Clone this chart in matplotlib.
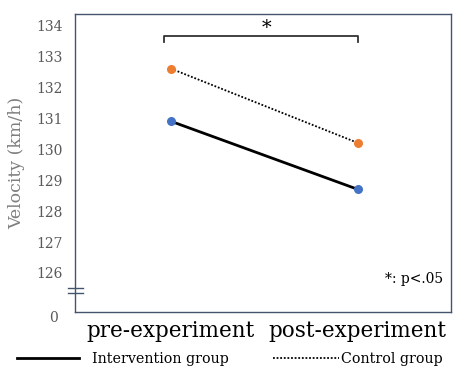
import matplotlib.pyplot as plt

phases = ['pre-experiment', 'post-experiment']
intervention = [130.9, 128.7]
control = [132.6, 130.2]
ytick_vals = [126, 127, 128, 129, 130, 131, 132, 133, 134]
ytick_labels = [str(v) for v in ytick_vals]

plt.rcParams['font.family'] = 'DejaVu Serif'

fig = plt.figure(figsize=(4.54, 3.71), dpi=100)
ax = fig.add_axes([0.165, 0.159, 0.828, 0.803])

x = [0, 1]
l1, = ax.plot(x, intervention, color='black', lw=2, label='Intervention group', zorder=2)
l2, = ax.plot(x, control, color='black', lw=1.3, ls=(0, (1, 1)), label='Control group', zorder=2)
ax.scatter(x, intervention, s=30, color='#4472C4', zorder=3)
ax.scatter(x, control, s=30, color='#ED7D31', zorder=3)

ax.set_xlim(-0.513, 1.497)
ax.set_ylim(124.74, 134.36)
ax.set_yticks(ytick_vals)
ax.set_yticklabels(ytick_labels, color='#595959', fontsize=10)
ax.set_xticks(x)
ax.set_xticklabels(phases, fontsize=15.5)
ax.tick_params(axis='y', length=0, pad=9)
ax.tick_params(axis='x', length=0, pad=6)
for s in ax.spines.values():
    s.set_color('#44546A')
    s.set_linewidth(1)

ax.set_ylabel('Velocity (km/h)', color='#7F7F7F', fontsize=12.5, labelpad=8)

# axis break mark and the "0" baseline label
ax.text(-0.045, -0.02, '0', transform=ax.transAxes, ha='right', va='center', fontsize=10, color='#595959')
for yy in [0.081, 0.064]:
    ax.plot([-0.018, 0.022], [yy, yy], transform=ax.transAxes, color='#44546A', lw=1, clip_on=False)

# significance bracket
ax.plot([-0.037, -0.037, 1.0, 1.0], [133.45, 133.65, 133.65, 133.45], color='#333333', lw=1.3)
ax.text(0.51, 133.92, '*', ha='center', va='center', fontsize=14)
ax.text(0.98, 0.11, '*: p<.05', transform=ax.transAxes, ha='right', va='center', fontsize=10)

leg1 = fig.legend(handles=[l1], loc='center left', bbox_to_anchor=(0.008, 0.032), frameon=False,
                  handlelength=4.4, handletextpad=0.9, fontsize=10.3)
leg2 = fig.legend(handles=[l2], loc='center left', bbox_to_anchor=(0.573, 0.032), frameon=False,
                  handlelength=4.6, handletextpad=0.15, fontsize=10.3)

fig.savefig('out.png', dpi=100)
